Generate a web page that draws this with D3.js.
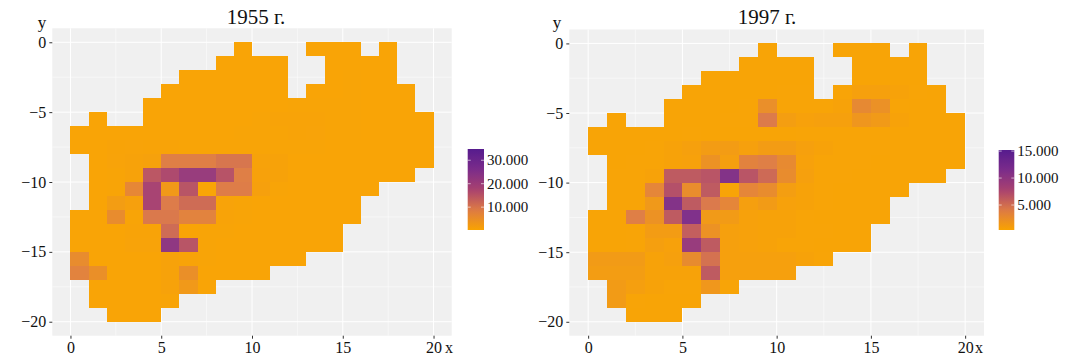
<!DOCTYPE html>
<html>
<head>
<meta charset="utf-8">
<script src="https://cdn.jsdelivr.net/npm/d3@7"></script>
<style>
  html, body { margin: 0; padding: 0; background: #fff; }
  text { font-family: "Liberation Serif", serif; fill: #111; }
</style>
</head>
<body>
<div id="viewer"></div>
<script>
var o = null;

var xTicks = [0, 5, 10, 15, 20];
var yTicks = [0, -5, -10, -15, -20];
var xMinor = [2.5, 7.5, 12.5, 17.5];
var yMinor = [-2.5, -7.5, -12.5, -17.5];

// one row per y (0 .. -19), one column per x (0 .. 19), null = no tile
var values1955 = [
  [o,o,o,o,o,o,o,o,o,400,o,o,o,400,400,400,o,400,o,o],
  [o,o,o,o,o,o,o,o,400,400,400,400,o,o,400,400,400,400,o,o],
  [o,o,o,o,o,o,400,400,400,400,400,400,o,o,400,500,400,400,o,o],
  [o,o,o,o,o,400,400,400,400,400,400,400,o,400,400,500,400,400,400,o],
  [o,o,o,o,400,400,400,400,400,400,400,400,500,500,500,500,400,400,400,o],
  [o,400,o,o,400,400,400,400,400,400,500,600,600,600,500,500,400,400,400,400],
  [400,400,400,400,400,400,400,400,400,500,500,500,600,700,500,500,400,400,400,400],
  [400,400,600,700,600,600,500,500,500,500,500,500,500,500,400,400,400,400,400,400],
  [o,400,700,900,1100,8500,8500,8500,10000,10000,900,800,400,400,400,400,400,400,400,400],
  [o,400,500,900,14600,16800,21000,21000,15300,8500,1000,800,400,400,400,400,400,400,400,o],
  [o,400,500,6500,18000,2800,15000,350,8800,8800,1300,500,400,400,400,400,400,o,o,o],
  [o,400,2000,1200,18000,9000,11500,11500,700,500,400,400,400,400,400,400,o,o,o,o],
  [400,400,5500,500,9500,9500,7500,7500,600,500,400,400,400,400,400,400,o,o,o,o],
  [400,400,400,600,600,11500,400,500,500,400,400,400,400,400,400,o,o,o,o,o],
  [400,400,400,700,700,22700,15000,500,400,400,400,400,400,400,400,o,o,o,o,o],
  [5500,400,400,400,400,900,600,500,400,400,400,400,400,o,o,o,o,o,o,o],
  [7500,4800,400,400,400,900,4800,400,400,400,400,o,o,o,o,o,o,o,o,o],
  [o,400,400,400,400,900,2800,400,o,o,o,o,o,o,o,o,o,o,o,o],
  [o,400,400,400,400,500,o,o,o,o,o,o,o,o,o,o,o,o,o,o],
  [o,o,400,400,400,o,o,o,o,o,o,o,o,o,o,o,o,o,o,o]
];

var values1997 = [
  [o,o,o,o,o,o,o,o,o,450,o,o,o,450,450,450,o,450,o,o],
  [o,o,o,o,o,o,o,o,450,450,450,450,o,o,450,450,450,450,o,o],
  [o,o,o,o,o,o,450,450,450,450,450,450,o,o,450,450,450,450,o,o],
  [o,o,o,o,o,450,450,450,450,450,500,500,o,500,800,800,600,500,450,o],
  [o,o,o,o,450,450,450,450,500,2400,500,500,500,600,2900,2200,500,450,450,o],
  [o,450,o,o,450,450,450,500,500,4200,1000,700,800,800,1700,1400,600,450,450,450],
  [450,450,450,450,450,500,450,450,450,450,450,500,500,500,500,500,450,450,450,450],
  [450,450,450,500,600,800,1200,1200,800,1200,1200,800,600,500,500,500,450,450,450,450],
  [o,450,500,500,600,700,2100,900,3500,3900,2800,700,500,500,500,450,450,450,450,450],
  [o,500,500,600,6300,6300,6700,11000,6700,5300,2600,800,500,500,450,450,450,450,450,o],
  [o,500,500,3200,7000,2500,6300,500,3200,2600,1000,600,500,450,450,450,450,o,o,o],
  [o,500,500,1500,11000,6300,4300,3200,900,1300,700,600,500,450,450,450,o,o,o,o],
  [450,450,3900,2100,6300,11300,1400,1300,700,600,600,500,450,450,450,450,o,o,o,o],
  [450,450,500,1200,1200,6000,2100,800,700,600,600,500,500,450,450,o,o,o,o,o],
  [450,450,500,900,700,9300,6300,800,700,600,500,500,450,450,450,o,o,o,o,o],
  [1300,1300,1300,600,800,2700,4800,800,800,800,800,600,500,o,o,o,o,o,o,o],
  [1100,1100,1100,600,600,600,6300,800,800,800,800,o,o,o,o,o,o,o,o,o],
  [o,1300,900,600,500,500,1600,500,o,o,o,o,o,o,o,o,o,o,o,o],
  [o,1300,500,450,450,450,o,o,o,o,o,o,o,o,o,o,o,o,o,o],
  [o,o,450,450,450,o,o,o,o,o,o,o,o,o,o,o,o,o,o,o]
];

var legendTicks1955 = [10000, 20000, 30000];
var legendTicks1997 = [5000, 10000, 15000];
var palette = ["#f9a300", "#dd7a45", "#a8416f", "#7b2c8a", "#561c8e"];

var svg = d3.select("#viewer").append("svg")
  .attr("width", 1069)
  .attr("height", 362)
  .style("display", "block");

var defs = svg.append("defs");
var dotted = d3.format(",");

function draw_panel(values, title, legendTicks, legendDomain, box){
  var x = d3.scaleLinear().domain([-1, 21]).range([box.left, box.right]);
  var y = d3.scaleLinear().domain([1, -21]).range([box.top, box.bottom]);
  var color = d3.scaleSequential(d3.piecewise(d3.interpolateRgb, palette)).domain(legendDomain);

  var g = svg.append("g");

  g.append("rect")
    .attr("x", box.left)
    .attr("y", box.top)
    .attr("width", box.right - box.left)
    .attr("height", box.bottom - box.top)
    .attr("fill", "#f0f0f0");

  // grid
  g.selectAll(".vminor").data(xMinor).enter().append("line")
    .attr("x1", x).attr("x2", x).attr("y1", box.top).attr("y2", box.bottom)
    .attr("stroke", "#fff").attr("stroke-width", 0.5);
  g.selectAll(".hminor").data(yMinor).enter().append("line")
    .attr("y1", y).attr("y2", y).attr("x1", box.left).attr("x2", box.right)
    .attr("stroke", "#fff").attr("stroke-width", 0.5);
  g.selectAll(".vmajor").data(xTicks).enter().append("line")
    .attr("x1", x).attr("x2", x).attr("y1", box.top).attr("y2", box.bottom)
    .attr("stroke", "#fff").attr("stroke-width", 1);
  g.selectAll(".hmajor").data(yTicks).enter().append("line")
    .attr("y1", y).attr("y2", y).attr("x1", box.left).attr("x2", box.right)
    .attr("stroke", "#fff").attr("stroke-width", 1);

  // tiles
  var cells = [];
  values.forEach(function(row, r){
    row.forEach(function(v, c){
      if (v !== null) cells.push({ col: c, row: -r, value: v });
    });
  });

  g.selectAll(".tile").data(cells).enter().append("rect")
    .attr("class", "tile")
    .attr("x", function(d){ return x(d.col); })
    .attr("y", function(d){ return y(d.row); })
    .attr("width", function(d){ return x(d.col + 1) - x(d.col); })
    .attr("height", function(d){ return y(d.row - 1) - y(d.row); })
    .attr("fill", function(d){ return color(d.value); })
    .attr("fill-opacity", 0.98)
    .attr("shape-rendering", "crispEdges");

  // axes
  var xAxis = g.append("g")
    .attr("transform", "translate(0," + box.bottom + ")")
    .call(d3.axisBottom(x).tickValues(xTicks).tickSize(3).tickPadding(3));
  var yAxis = g.append("g")
    .attr("transform", "translate(" + box.left + ",0)")
    .call(d3.axisLeft(y).tickValues(yTicks).tickSize(3).tickPadding(3));
  xAxis.select(".domain").remove();
  yAxis.select(".domain").remove();
  g.selectAll(".tick text").style("font-family", '"Liberation Serif", serif').style("font-size", "16px").attr("fill", "#111");
  g.selectAll(".tick line").attr("stroke", "#333");

  g.append("text")
    .attr("x", box.titleX)
    .attr("y", 24)
    .attr("text-anchor", "middle")
    .style("font-size", "21px")
    .text(title);
  g.append("text")
    .attr("x", box.yLabelX)
    .attr("y", 28)
    .attr("text-anchor", "middle")
    .style("font-size", "17px")
    .text("y");
  g.append("text")
    .attr("x", box.xLabelX)
    .attr("y", 353)
    .attr("text-anchor", "middle")
    .style("font-size", "16px")
    .text("x");

  // colour bar
  var gradId = "legend" + title.slice(0, 4);
  defs.append("linearGradient")
    .attr("id", gradId)
    .attr("x1", "0%").attr("y1", "100%")
    .attr("x2", "0%").attr("y2", "0%")
    .selectAll("stop")
    .data(d3.range(20))
    .enter().append("stop")
    .attr("offset", function(d){ return d / 19; })
    .attr("stop-color", function(d){ return color(legendDomain[0] + d / 19 * (legendDomain[1] - legendDomain[0])); });

  var legendScale = d3.scaleLinear().domain(legendDomain).range([box.legendBottom, box.legendTop]);

  g.append("rect")
    .attr("x", box.legendX)
    .attr("y", box.legendTop)
    .attr("width", box.legendW)
    .attr("height", box.legendBottom - box.legendTop)
    .style("fill", "url(#" + gradId + ")");

  legendTicks.forEach(function(t){
    g.append("line")
      .attr("x1", box.legendX).attr("x2", box.legendX + 3)
      .attr("y1", legendScale(t)).attr("y2", legendScale(t))
      .attr("stroke", "#fff").attr("stroke-opacity", 0.6);
    g.append("line")
      .attr("x1", box.legendX + box.legendW - 3).attr("x2", box.legendX + box.legendW)
      .attr("y1", legendScale(t)).attr("y2", legendScale(t))
      .attr("stroke", "#fff").attr("stroke-opacity", 0.6);
    g.append("text")
      .attr("x", box.legendX + box.legendW + 3)
      .attr("y", legendScale(t))
      .attr("dy", "0.33em")
      .style("font-size", "15px")
      .text(dotted(t).replace(",", "."));
  });
}

draw_panel(values1955, "1955 г.", legendTicks1955, [250, 34800], {
  left: 52.3, right: 451.7, top: 28.3, bottom: 335.7,
  titleX: 256, yLabelX: 42, xLabelX: 449,
  legendX: 467.7, legendW: 16.3, legendTop: 149, legendBottom: 230
});

draw_panel(values1997, "1997 г.", legendTicks1997, [370, 15200], {
  left: 569.3, right: 984, top: 29.5, bottom: 335.7,
  titleX: 767, yLabelX: 557, xLabelX: 979,
  legendX: 998.7, legendW: 15.6, legendTop: 150, legendBottom: 230
});
</script>
</body>
</html>
